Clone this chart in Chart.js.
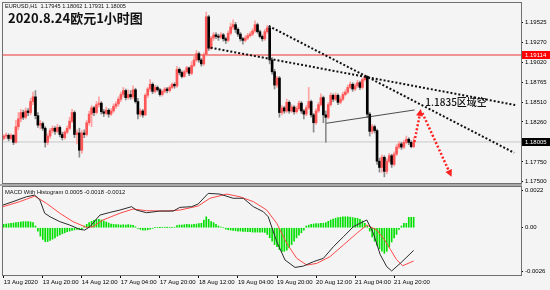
<!DOCTYPE html>
<html>
<head>
<meta charset="utf-8">
<script src="https://cdn.jsdelivr.net/npm/chart.js@4"></script>
<style>
  html, body { margin: 0; padding: 0; background: #f4f4f4; }
  #wrap { position: relative; width: 550px; height: 290px; overflow: hidden; }
  canvas { position: absolute; left: 0; }
  #priceChart { top: 0; }
  #macdChart { top: 184px; }
  .txt { position: absolute; white-space: nowrap; color: #111; font-family: 'Liberation Sans', Arial, sans-serif; }
</style>
</head>
<body>
<div id="wrap">
  <canvas id="priceChart" width="550" height="184"></canvas>
  <canvas id="macdChart" width="550" height="106"></canvas>
  <div class="txt" style="left:5px;top:2px;font-size:5.6px;line-height:8px;">EURUSD,H1&nbsp; 1.17945 1.18062 1.17931 1.18005</div>
  <div class="txt" style="left:8px;top:10px;font-size:13px;line-height:16px;font-weight:bold;font-family:'Noto Sans CJK SC',sans-serif;">2020.8.24欧元1小时图</div>
  <div class="txt" style="left:5px;top:188px;font-size:5.8px;line-height:8px;">MACD With Histogram 0.0005 -0.0018 -0.0012</div>
</div>
<script>
// EURUSD H1, bar 0 = 13 Aug 04:00
const opens = [
  1.1805,1.1808,1.1809,1.1805,1.1809,1.1800,1.1820,1.1830,1.1838,1.1832,
  1.1840,1.1838,1.1852,1.1858,1.1834,1.1822,1.1824,1.1818,1.1800,1.1808,
  1.1815,1.1818,1.1814,1.1819,1.1810,1.1806,1.1813,1.1818,1.1827,1.1838,
  1.1810,1.1812,1.1790,1.1812,1.1810,1.1825,1.1836,1.1844,1.1838,1.1848,
  1.1850,1.1839,1.1837,1.1841,1.1836,1.1840,1.1846,1.1849,1.1855,1.1861,
  1.1866,1.1857,1.1861,1.1858,1.1867,1.1852,1.1836,1.1840,1.1835,1.1860,
  1.1868,1.1874,1.1865,1.1870,1.1867,1.1861,1.1865,1.1868,1.1866,1.1870,
  1.1874,1.1872,1.1893,1.1889,1.1884,1.1890,1.1895,1.1888,1.1898,1.1905,
  1.1913,1.1905,1.1900,1.1912,1.1960,1.1920,1.1933,1.1937,1.1935,1.1934,
  1.1937,1.1932,1.1930,1.1939,1.1947,1.1950,1.1944,1.1938,1.1932,1.1930,
  1.1933,1.1936,1.1938,1.1942,1.1950,1.1941,1.1935,1.1932,1.1941,1.1946,
  1.1905,1.1890,1.1873,1.1882,1.1838,1.1844,1.1840,1.1851,1.1840,1.1845,
  1.1839,1.1843,1.1850,1.1840,1.1836,1.1844,1.1852,1.1835,1.1825,1.1840,
  1.1848,1.1857,1.1835,1.1832,1.1848,1.1860,1.1855,1.1860,1.1851,1.1855,
  1.1861,1.1864,1.1870,1.1874,1.1868,1.1872,1.1876,1.1870,1.1880,1.1884,
  1.1836,1.1814,1.1820,1.1815,1.1776,1.1768,1.1781,1.1763,1.1776,1.1783,
  1.1772,1.1785,1.1794,1.1798,1.1794,1.1800,1.1804,1.1800,1.17945
];
const highs = [
  1.1810,1.1812,1.1811,1.1811,1.1810,1.1828,1.1838,1.1842,1.1841,1.1844,
  1.1843,1.1856,1.1864,1.1866,1.1838,1.1828,1.1826,1.1820,1.1811,1.1818,
  1.1821,1.1820,1.1823,1.1821,1.1813,1.1815,1.1821,1.1832,1.1842,1.1840,
  1.1816,1.1818,1.1815,1.1816,1.1828,1.1840,1.1847,1.1846,1.1852,1.1858,
  1.1852,1.1842,1.1845,1.1843,1.1843,1.1849,1.1852,1.1858,1.1864,1.1870,
  1.1868,1.1867,1.1866,1.1872,1.1869,1.1856,1.1843,1.1842,1.1862,1.1870,
  1.1880,1.1876,1.1873,1.1872,1.1869,1.1867,1.1870,1.1870,1.1872,1.1876,
  1.1876,1.1897,1.1895,1.1891,1.1892,1.1897,1.1896,1.1903,1.1910,1.1917,
  1.1915,1.1907,1.1914,1.1966,1.1962,1.1935,1.1940,1.1940,1.1938,1.1940,
  1.1939,1.1934,1.1942,1.1952,1.1956,1.1953,1.1946,1.1940,1.1934,1.1936,
  1.1939,1.1941,1.1945,1.1955,1.1952,1.1943,1.1937,1.1944,1.1949,1.1948,
  1.1908,1.1893,1.1884,1.1884,1.1847,1.1846,1.1855,1.1853,1.1848,1.1847,
  1.1846,1.1853,1.1852,1.1842,1.1847,1.1870,1.1854,1.1837,1.1843,1.1851,
  1.1862,1.1859,1.1840,1.1851,1.1863,1.1862,1.1863,1.1862,1.1858,1.1864,
  1.1867,1.1873,1.1877,1.1876,1.1875,1.1879,1.1878,1.1882,1.1886,1.1885,
  1.1838,1.1823,1.1822,1.1817,1.1780,1.1784,1.1783,1.1779,1.1786,1.1785,
  1.1788,1.1797,1.1801,1.1800,1.1803,1.1808,1.1806,1.1802,1.18062
];
const lows = [
  1.1803,1.1805,1.1802,1.1803,1.1797,1.1799,1.1816,1.1826,1.1829,1.1830,
  1.1834,1.1835,1.1848,1.1830,1.1819,1.1817,1.1815,1.1794,1.1797,1.1805,
  1.1812,1.1810,1.1812,1.1807,1.1803,1.1804,1.1811,1.1816,1.1825,1.1806,
  1.1798,1.1781,1.1786,1.1806,1.1808,1.1822,1.1820,1.1834,1.1836,1.1845,
  1.1836,1.1833,1.1835,1.1832,1.1834,1.1838,1.1843,1.1846,1.1852,1.1858,
  1.1854,1.1855,1.1855,1.1855,1.1850,1.1830,1.1833,1.1832,1.1834,1.1857,
  1.1865,1.1862,1.1863,1.1865,1.1859,1.1859,1.1863,1.1863,1.1864,1.1868,
  1.1869,1.1870,1.1886,1.1882,1.1883,1.1888,1.1885,1.1886,1.1896,1.1903,
  1.1902,1.1897,1.1898,1.1910,1.1917,1.1918,1.1930,1.1932,1.1930,1.1932,
  1.1929,1.1926,1.1928,1.1937,1.1944,1.1940,1.1935,1.1929,1.1925,1.1928,
  1.1931,1.1934,1.1936,1.1940,1.1939,1.1933,1.1929,1.1930,1.1939,1.1900,
  1.1887,1.1868,1.1870,1.1832,1.1835,1.1837,1.1838,1.1837,1.1838,1.1836,
  1.1837,1.1841,1.1837,1.1830,1.1834,1.1842,1.1832,1.1813,1.1823,1.1838,
  1.1846,1.1825,1.1800,1.1830,1.1846,1.1852,1.1853,1.1848,1.1849,1.1853,
  1.1859,1.1862,1.1868,1.1865,1.1866,1.1870,1.1867,1.1868,1.1878,1.1832,
  1.1808,1.1811,1.1812,1.1772,1.1762,1.1762,1.1756,1.1760,1.1774,1.1768,
  1.1770,1.1783,1.1792,1.1791,1.1792,1.1798,1.1797,1.1793,1.17931
];
const closes = [
  1.1808,1.1809,1.1805,1.1809,1.1800,1.1820,1.1830,1.1838,1.1832,1.1840,
  1.1838,1.1852,1.1858,1.1834,1.1822,1.1824,1.1818,1.1800,1.1808,1.1815,
  1.1818,1.1814,1.1819,1.1810,1.1806,1.1813,1.1818,1.1827,1.1838,1.1810,
  1.1812,1.1790,1.1812,1.1810,1.1825,1.1836,1.1844,1.1838,1.1848,1.1850,
  1.1839,1.1837,1.1841,1.1836,1.1840,1.1846,1.1849,1.1855,1.1861,1.1866,
  1.1857,1.1861,1.1858,1.1867,1.1852,1.1836,1.1840,1.1835,1.1860,1.1868,
  1.1874,1.1865,1.1870,1.1867,1.1861,1.1865,1.1868,1.1866,1.1870,1.1874,
  1.1872,1.1893,1.1889,1.1884,1.1890,1.1895,1.1888,1.1898,1.1905,1.1913,
  1.1905,1.1900,1.1912,1.1960,1.1920,1.1933,1.1937,1.1935,1.1934,1.1937,
  1.1932,1.1930,1.1939,1.1947,1.1950,1.1944,1.1938,1.1932,1.1930,1.1933,
  1.1936,1.1938,1.1942,1.1950,1.1941,1.1935,1.1932,1.1941,1.1946,1.1905,
  1.1890,1.1873,1.1882,1.1838,1.1844,1.1840,1.1851,1.1840,1.1845,1.1839,
  1.1843,1.1850,1.1840,1.1836,1.1844,1.1852,1.1835,1.1825,1.1840,1.1848,
  1.1857,1.1835,1.1832,1.1848,1.1860,1.1855,1.1860,1.1851,1.1855,1.1861,
  1.1864,1.1870,1.1874,1.1868,1.1872,1.1876,1.1870,1.1880,1.1884,1.1836,
  1.1814,1.1820,1.1815,1.1776,1.1768,1.1781,1.1763,1.1776,1.1783,1.1772,
  1.1785,1.1794,1.1798,1.1794,1.1800,1.1804,1.1800,1.17945,1.18005
];

// MACD pane
const histogram = [
  0.0002,0.00022,0.00024,0.00026,0.00028,0.0003,0.00032,0.00034,0.00036,0.00036,
  0.00036,0.00034,0.0003,0.0001,-0.0002,-0.0005,-0.0007,-0.00083,-0.00082,-0.00075,
  -0.00068,-0.0006,-0.0005,-0.00043,-0.00036,-0.0003,-0.00024,-0.0002,-0.00016,-0.00013,
  -0.0001,-0.0001,-0.00008,0.0001,0.0002,0.0003,0.00038,0.00044,0.00048,0.0005,
  0.00046,0.0004,0.00034,0.00028,0.00022,0.0002,0.00018,0.00018,0.00016,0.00018,
  0.00016,0.00018,0.00016,0.00014,0.00006,-0.00004,-0.0001,-0.00014,-0.00014,-0.00012,
  -0.00008,-0.00004,0.00002,0.00002,0.00001,0.00002,0.00002,0.00001,0.00002,0.00002,
  0.00003,0.00012,0.00016,0.00016,0.00018,0.0002,0.00018,0.00018,0.0002,0.00022,
  0.00024,0.00026,0.00045,0.00065,0.0005,0.00036,0.0003,0.0002,0.0001,0.00004,
  0,-0.00008,-0.00012,-0.00014,-0.00016,-0.00018,-0.0002,-0.0002,-0.00022,-0.00022,
  -0.00024,-0.00024,-0.00026,-0.00026,-0.00026,-0.00026,-0.00026,-0.00028,-0.0004,-0.0006,
  -0.0008,-0.001,-0.00113,-0.0013,-0.00143,-0.0014,-0.00133,-0.0012,-0.001,-0.0008,
  -0.0006,-0.00045,-0.0003,-0.00015,0.0001,0.00015,0.0002,0.00022,0.00024,0.00024,
  0.00026,0.00026,0.0003,0.00038,0.00046,0.00052,0.00056,0.0006,0.00062,0.00064,
  0.00065,0.00065,0.00062,0.0006,0.00058,0.00056,0.0005,0.0004,0.00026,0.0001,
  -0.0002,-0.00054,-0.0008,-0.00105,-0.00125,-0.0014,-0.00152,-0.0014,-0.00115,-0.00085,
  -0.0006,-0.0004,-0.0001,0.0001,0.00026,0.00026,0.00062,0.00062,0.00062
];
const macdBars = [-0.3,3.8,9.3,12.7,14.8,16.8,19,23,27,31.2,33.2,35.3,39.4,43.5,47.6,52.4,54.4,58.5,64,69.5,72.2,77,79.7,83.8,88.6,94,98.2,102.3,106.4,108.4,111.9,115.3,119.4,122.8,126.9,131,135.1,139.2,143.3,146,148.8,151.5,154.3,157,159,162.5,168];
const macdLine = [0.00135,0.00155,0.00184,0.00194,0.00165,0.00086,0.00065,0.00036,0.00016,-0.0001,-0.00014,0.00006,0.00075,0.00091,0.00105,0.00125,0.00105,0.00089,0.00099,0.00099,0.00121,0.00125,0.00141,0.00204,0.002,0.00175,0.00175,0.00125,0.00095,0.00065,-0.00083,-0.00192,-0.00236,-0.00228,-0.00202,-0.00182,-0.00113,-0.00054,0.00006,0.00026,0.00046,-0.00033,-0.0016,-0.00232,-0.00257,-0.00212,-0.00135];
const signalBars = [-0.3,6.6,12.7,17.5,23,28.4,33.9,36.6,40.7,47.6,53,58.5,66.7,72.2,79.7,84.5,91.4,96.8,102.3,107.8,111.9,116,120.1,124.2,128.3,133.7,139.2,144.7,148.8,152.9,156,158.5,161,163.5,168];
const signalLine = [0.00125,0.00155,0.00188,0.00145,0.00086,0.00036,0.00002,0.00006,0.00046,0.00086,0.00111,0.00101,0.00099,0.00105,0.00129,0.00175,0.002,0.00184,0.00155,0.00105,0.00026,-0.00093,-0.00182,-0.00222,-0.00212,-0.00172,-0.00103,-0.00033,0.00016,-0.00014,-0.0007,-0.0013,-0.0019,-0.00226,-0.00198];

// axes
const priceTicks = [1.19525,1.19270,1.19020,1.18765,1.18510,1.18260,1.18005,1.17750,1.17500];
const macdTicks = [0.0022, 0, -0.0026];
const macdTickLabels = ['0.0022', '0.00', '-0.0026'];
const timeTicks = [0,16,32,48,64,80,96,112,128,144,160];
const timeLabels = ['13 Aug 2020','13 Aug 20:00','14 Aug 12:00','17 Aug 04:00','17 Aug 20:00','18 Aug 12:00','19 Aug 04:00','19 Aug 20:00','20 Aug 12:00','21 Aug 04:00','21 Aug 20:00'];

// drawn objects (bar index, price)
const redLevel = 1.19114;
const bidLevel = 1.18005;
const trendUpper = [[84.8, 1.19206], [209.6, 1.18476]];
const trendLower = [[108.6, 1.19483], [209.2, 1.17867]];
const arrowUp = [[168.3, 1.18005], [170.8, 1.18400]];
const arrowDown = [[171.6, 1.18374], [183.2, 1.17584]];
const signStroke = [[132.2, 1.18243], [168.4, 1.18413]];
const noteText = '1.1835区域空';
const noteAt = [172.8, 1.18518];

const X_MIN = -0.3, X_MAX = 212;
const fontSmall = { family: "'Liberation Sans', Arial, sans-serif", size: 6 };
const idx = closes.map((_, i) => i);
const isUp = i => closes[i] >= opens[i];
const pts = arr => arr.map(p => ({ x: p[0], y: p[1] }));

function hline(v, color, w) {
  return { type: 'line', data: [{ x: X_MIN, y: v }, { x: X_MAX, y: v }], borderColor: color, borderWidth: w, pointRadius: 0, order: 5 };
}
function dotted(arr, color, extra) {
  return Object.assign({ type: 'line', data: pts(arr), borderColor: color, borderWidth: 2, borderDash: [2, 2], pointRadius: 0, order: 0 }, extra || {});
}
function fixY(s) { s.width = 29; s.paddingTop = 0; s.paddingBottom = 0; }

const frame = {
  id: 'frame',
  afterDraw(chart, args, opts) {
    const { ctx, chartArea: a } = chart;
    ctx.save();
    if (opts.band) {
      // separator between the two panes
      ctx.fillStyle = '#a8a8a8';
      ctx.fillRect(0, 0, a.right + 1, 2);
    }
    ctx.strokeStyle = '#707070';
    ctx.lineWidth = 1;
    ctx.strokeRect(a.left - 0.5, a.top - 0.5, a.right - a.left + 1, a.bottom - a.top + 1);
    ctx.restore();
  }
};

const extras = {
  id: 'extras',
  afterDatasetsDraw(chart) {
    const { ctx, scales: { x, y } } = chart;
    ctx.save();
    // arrow heads
    chart.data.datasets.forEach((ds, k) => {
      if (!ds.arrow) return;
      const el = chart.getDatasetMeta(k).data;
      const p0 = el[el.length - 2], p1 = el[el.length - 1];
      const ang = Math.atan2(p1.y - p0.y, p1.x - p0.x);
      ctx.translate(p1.x, p1.y);
      ctx.rotate(ang);
      ctx.fillStyle = ds.borderColor;
      ctx.beginPath();
      ctx.moveTo(2, 0); ctx.lineTo(-5, -3.5); ctx.lineTo(-5, 3.5); ctx.closePath();
      ctx.fill();
      ctx.setTransform(1, 0, 0, 1, 0, 0);
    });
    // note
    ctx.fillStyle = '#111';
    ctx.font = "500 10px 'Noto Sans CJK SC', sans-serif";
    ctx.textBaseline = 'middle';
    ctx.fillText(noteText, x.getPixelForValue(noteAt[0]), y.getPixelForValue(noteAt[1]));
    ctx.restore();
  },
  afterDraw(chart) {
    const { ctx, chartArea: a, scales: { y } } = chart;
    ctx.save();
    ctx.font = "6px 'Liberation Sans', Arial, sans-serif";
    ctx.textBaseline = 'middle';
    [[redLevel, '#ff0000'], [bidLevel, '#000000']].forEach(([v, bg]) => {
      const py = Math.round(y.getPixelForValue(v));
      ctx.fillStyle = bg;
      ctx.fillRect(a.right + 1, py - 4, 550 - a.right - 1, 8);
      ctx.fillStyle = '#fff';
      ctx.fillText(v.toFixed(5), a.right + 4, py + 0.5);
    });
    ctx.restore();
  }
};

new Chart(document.getElementById('priceChart'), {
  type: 'bar',
  data: {
    datasets: [
      hline(redLevel, '#ef7373', 1.5),
      hline(bidLevel, '#c8c8c8', 1),
      {
        type: 'bar', order: 3, grouped: false, barThickness: 1,
        data: idx.map(i => ({ x: i, y: [lows[i], highs[i]] })),
        backgroundColor: c => isUp(c.dataIndex) ? '#ffa3a3' : '#8c8c8c'
      },
      {
        type: 'bar', order: 2, grouped: false, barThickness: 2, minBarLength: 1,
        data: idx.map(i => ({ x: i, y: [opens[i], closes[i]] })),
        backgroundColor: c => isUp(c.dataIndex) ? '#ff5757' : '#000000'
      },
      { type: 'line', data: pts(signStroke), borderColor: '#222', borderWidth: 0.8, pointRadius: 0, order: 1 },
      dotted(trendUpper, '#111'),
      dotted(trendLower, '#111'),
      dotted(arrowUp, '#ff2020', { arrow: true, borderWidth: 2.5 }),
      dotted(arrowDown, '#ff2020', { arrow: true, borderWidth: 2.5 })
    ]
  },
  options: {
    responsive: false, animation: false, devicePixelRatio: 1,
    layout: { autoPadding: false, padding: { left: 3, top: 3, right: 0, bottom: 1 } },
    plugins: { legend: { display: false }, tooltip: { enabled: false }, frame: {} },
    scales: {
      x: { type: 'linear', offset: false, min: X_MIN, max: X_MAX, display: false },
      y: {
        position: 'right', min: 1.17482, max: 1.19776,
        afterBuildTicks: s => { s.ticks = priceTicks.map(v => ({ value: v })); },
        afterFit: fixY,
        ticks: { font: fontSmall, color: '#000', padding: 2, callback: v => v.toFixed(5) },
        grid: { drawOnChartArea: false, tickLength: 2, color: '#000' },
        border: { display: false }
      }
    }
  },
  plugins: [frame, extras]
});

new Chart(document.getElementById('macdChart'), {
  type: 'bar',
  data: {
    datasets: [
      { type: 'line', data: macdBars.map((b, k) => ({ x: b, y: macdLine[k] })), borderColor: '#2b2b2b', borderWidth: 1, pointRadius: 0, order: 0 },
      { type: 'line', data: signalBars.map((b, k) => ({ x: b, y: signalLine[k] })), borderColor: '#ff4848', borderWidth: 1, pointRadius: 0, order: 1 },
      { type: 'bar', data: idx.map(i => ({ x: i, y: histogram[i] })), backgroundColor: '#00e000', barThickness: 1, grouped: false, order: 2 }
    ]
  },
  options: {
    responsive: false, animation: false, devicePixelRatio: 1,
    layout: { autoPadding: false, padding: { left: 3, top: 3, right: 0, bottom: 0 } },
    plugins: { legend: { display: false }, tooltip: { enabled: false }, frame: { band: true } },
    scales: {
      x: {
        type: 'linear', offset: false, min: X_MIN, max: X_MAX,
        afterBuildTicks: s => { s.ticks = timeTicks.map(v => ({ value: v })); },
        afterFit: s => { s.height = 15; s.paddingLeft = 0; s.paddingRight = 0; },
        ticks: { font: fontSmall, color: '#000', align: 'start', autoSkip: false, maxRotation: 0, padding: 1, callback: (v, i) => timeLabels[i] },
        grid: { drawOnChartArea: false, offset: false, tickLength: 3, color: '#000' },
        border: { display: false }
      },
      y: {
        position: 'right', min: -0.00281, max: 0.00242,
        afterBuildTicks: s => { s.ticks = macdTicks.map(v => ({ value: v })); },
        afterFit: fixY,
        ticks: { font: fontSmall, color: '#000', padding: 2, callback: (v, i) => macdTickLabels[i] },
        grid: { drawOnChartArea: false, tickLength: 2, color: '#000' },
        border: { display: false }
      }
    }
  },
  plugins: [frame]
});
</script>
</body>
</html>
